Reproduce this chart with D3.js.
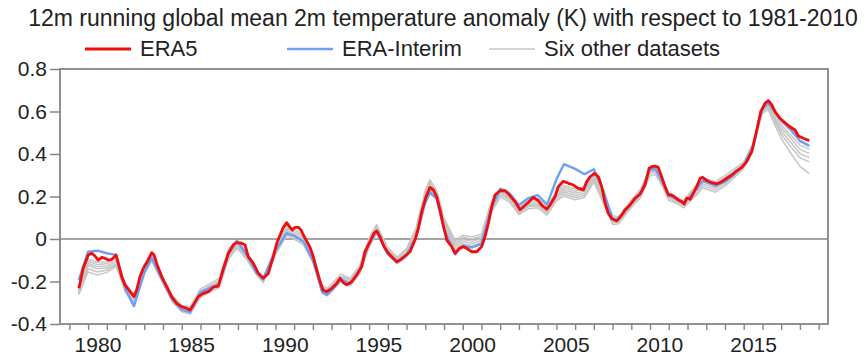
<!DOCTYPE html>
<html>
<head>
<meta charset="utf-8">
<script src="https://cdn.jsdelivr.net/npm/d3@7"></script>
<style>
  html, body { margin: 0; padding: 0; background: #fff; }
  svg { display: block; }
  text { font-family: "Liberation Sans", Arial, Helvetica, sans-serif; fill: #222; }
</style>
</head>
<body>
<svg id="chart" width="864" height="360"></svg>
<script>
// ---------------- DATA ----------------
const titleText = "12m running global mean 2m temperature anomaly (K) with respect to 1981-2010";
const seriesNames = ["ERA5", "ERA-Interim", "Six other datasets"];

const era5Years = [1979.51,1979.74,1980.01,1980.19,1980.37,1980.54,1980.73,1980.90,1981.08,1981.26,
1981.49,1981.61,1981.79,1981.97,1982.24,1982.45,1982.60,1982.77,1982.95,1983.16,
1983.40,1983.52,1983.69,1983.93,1984.20,1984.46,1984.73,1984.99,1985.26,1985.44,
1985.62,1985.88,1986.15,1986.42,1986.68,1986.95,1987.22,1987.49,1987.75,1987.93,
1988.20,1988.38,1988.55,1988.82,1989.09,1989.35,1989.62,1989.89,1990.07,1990.25,
1990.42,1990.60,1990.78,1990.90,1991.05,1991.22,1991.37,1991.49,1991.67,1991.85,
1992.02,1992.21,1992.38,1992.54,1992.74,1993.01,1993.27,1993.45,1993.63,1993.81,
1994.07,1994.34,1994.61,1994.78,1995.05,1995.26,1995.41,1995.58,1995.80,1996.03,
1996.29,1996.48,1996.65,1996.92,1997.19,1997.45,1997.63,1997.81,1998.04,1998.25,
1998.43,1998.61,1998.79,1998.96,1999.15,1999.41,1999.59,1999.82,2000.03,2000.21,
2000.48,2000.75,2001.01,2001.19,2001.37,2001.55,2001.72,2001.99,2002.26,2002.53,
2002.79,2003.06,2003.24,2003.50,2003.77,2004.04,2004.22,2004.49,2004.66,2004.93,
2005.10,2005.37,2005.64,2005.91,2006.17,2006.44,2006.62,2006.80,2007.03,2007.24,
2007.42,2007.60,2007.77,2007.95,2008.22,2008.49,2008.66,2008.93,2009.20,2009.47,
2009.73,2009.95,2010.09,2010.27,2010.44,2010.62,2010.80,2010.98,2011.16,2011.33,
2011.51,2011.69,2011.82,2011.96,2012.14,2012.31,2012.49,2012.67,2012.81,2013.03,
2013.29,2013.56,2013.83,2014.10,2014.36,2014.63,2014.90,2015.16,2015.43,2015.70,
2015.91,2016.14,2016.32,2016.50,2016.67,2016.94,2017.21,2017.47,2017.74,2017.92,
2018.18,2018.50];

const era5Values = [-0.232,-0.138,-0.075,-0.067,-0.080,-0.099,-0.086,-0.091,-0.099,-0.096,
-0.075,-0.114,-0.177,-0.216,-0.248,-0.271,-0.240,-0.177,-0.138,-0.107,
-0.064,-0.075,-0.122,-0.177,-0.224,-0.271,-0.303,-0.318,-0.326,-0.334,
-0.310,-0.271,-0.256,-0.248,-0.227,-0.222,-0.140,-0.067,-0.028,-0.017,
-0.020,-0.028,-0.083,-0.114,-0.162,-0.185,-0.162,-0.083,-0.020,0.019,
0.055,0.077,0.055,0.042,0.055,0.055,0.042,0.019,-0.010,-0.040,
-0.083,-0.146,-0.200,-0.240,-0.248,-0.232,-0.209,-0.185,-0.206,-0.216,
-0.201,-0.169,-0.130,-0.060,-0.013,0.027,0.038,0.011,-0.036,-0.067,
-0.091,-0.107,-0.099,-0.080,-0.060,-0.005,0.050,0.128,0.199,0.243,
0.231,0.199,0.136,0.066,-0.005,-0.036,-0.067,-0.044,-0.036,-0.044,
-0.060,-0.060,-0.036,0.011,0.074,0.152,0.207,0.227,0.228,0.203,
0.176,0.138,0.152,0.172,0.196,0.180,0.158,0.140,0.160,0.200,
0.246,0.272,0.262,0.254,0.238,0.231,0.270,0.293,0.309,0.293,
0.246,0.168,0.121,0.097,0.085,0.113,0.136,0.160,0.192,0.212,
0.254,0.333,0.340,0.343,0.337,0.293,0.246,0.207,0.207,0.196,
0.184,0.176,0.165,0.192,0.187,0.215,0.246,0.286,0.290,0.275,
0.265,0.259,0.270,0.286,0.301,0.321,0.337,0.364,0.411,0.513,
0.599,0.639,0.651,0.631,0.599,0.568,0.547,0.528,0.513,0.485,
0.474,0.463];

// ERA-Interim and the six other datasets, read on a coarser time grid
const otherYears = [1979.5,1980.0,1980.5,1981.0,1981.5,1982.0,1982.45,1983.0,1983.4,1984.0,
1984.5,1985.0,1985.45,1986.0,1986.5,1987.0,1987.5,1987.95,1988.5,1989.0,
1989.35,1990.0,1990.6,1991.0,1991.5,1992.0,1992.5,1992.75,1993.0,1993.5,
1994.0,1994.5,1995.0,1995.4,1996.0,1996.5,1997.0,1997.5,1998.0,1998.25,
1998.6,1999.0,1999.6,2000.0,2000.5,2001.0,2001.5,2002.0,2002.5,2003.0,
2003.5,2004.0,2004.5,2005.0,2005.4,2006.0,2006.5,2007.0,2007.5,2008.0,
2008.3,2009.0,2009.5,2010.0,2010.3,2010.7,2011.0,2011.5,2011.8,2012.5,
2012.8,2013.5,2014.0,2014.5,2015.0,2015.5,2015.8,2016.0,2016.3,2016.7,
2017.0,2017.5,2018.0,2018.5];

const eraInterimValues = [-0.192,-0.060,-0.055,-0.067,-0.075,-0.240,-0.316,-0.160,-0.089,-0.200,
-0.286,-0.333,-0.344,-0.250,-0.230,-0.210,-0.070,-0.007,-0.080,-0.160,
-0.190,-0.055,0.027,0.015,-0.013,-0.100,-0.250,-0.263,-0.242,-0.190,
-0.210,-0.145,-0.020,0.033,-0.070,-0.110,-0.075,0.010,0.170,0.218,
0.190,0.045,-0.072,-0.032,-0.040,-0.022,0.140,0.237,0.215,0.160,
0.192,0.207,0.162,0.280,0.352,0.330,0.305,0.328,0.230,0.094,
0.090,0.168,0.215,0.328,0.328,0.260,0.207,0.184,0.167,0.238,
0.275,0.250,0.270,0.305,0.347,0.435,0.550,0.610,0.640,0.595,
0.558,0.516,0.462,0.438];

const other1Values = [-0.262,-0.155,-0.170,-0.157,-0.130,-0.250,-0.301,-0.160,-0.104,-0.210,
-0.296,-0.343,-0.354,-0.275,-0.250,-0.230,-0.095,-0.042,-0.100,-0.170,
-0.205,-0.075,0.017,0.000,-0.028,-0.110,-0.255,-0.268,-0.247,-0.200,
-0.220,-0.165,-0.040,0.028,-0.075,-0.115,-0.085,0.000,0.180,0.233,
0.190,0.050,-0.057,-0.032,-0.040,-0.027,0.120,0.197,0.175,0.115,
0.142,0.147,0.112,0.180,0.202,0.185,0.195,0.268,0.170,0.069,
0.070,0.148,0.195,0.298,0.303,0.240,0.182,0.164,0.147,0.208,
0.240,0.220,0.250,0.290,0.332,0.420,0.530,0.590,0.610,0.530,
0.473,0.406,0.342,0.308];

const other2Values = [-0.257,-0.140,-0.155,-0.147,-0.120,-0.240,-0.291,-0.150,-0.094,-0.205,
-0.286,-0.338,-0.344,-0.265,-0.240,-0.220,-0.085,-0.032,-0.090,-0.165,
-0.200,-0.065,0.027,0.010,-0.018,-0.100,-0.250,-0.258,-0.242,-0.190,
-0.210,-0.155,-0.030,0.038,-0.065,-0.110,-0.075,0.010,0.190,0.243,
0.200,0.060,-0.047,-0.022,-0.030,-0.017,0.130,0.207,0.185,0.120,
0.152,0.157,0.122,0.190,0.212,0.195,0.205,0.278,0.180,0.079,
0.075,0.158,0.205,0.308,0.313,0.250,0.192,0.169,0.157,0.218,
0.250,0.230,0.260,0.300,0.337,0.430,0.540,0.600,0.620,0.545,
0.493,0.436,0.382,0.363];

const other3Values = [-0.252,-0.125,-0.140,-0.137,-0.115,-0.235,-0.281,-0.145,-0.089,-0.200,
-0.281,-0.328,-0.339,-0.260,-0.235,-0.210,-0.075,-0.027,-0.085,-0.160,
-0.195,-0.060,0.037,0.020,-0.013,-0.095,-0.245,-0.253,-0.232,-0.185,
-0.205,-0.145,-0.020,0.043,-0.060,-0.105,-0.070,0.020,0.200,0.253,
0.210,0.070,-0.037,-0.012,-0.020,-0.007,0.140,0.217,0.190,0.125,
0.157,0.162,0.127,0.200,0.222,0.205,0.215,0.288,0.190,0.084,
0.085,0.163,0.215,0.318,0.318,0.255,0.197,0.174,0.162,0.228,
0.260,0.240,0.270,0.310,0.342,0.435,0.550,0.605,0.625,0.555,
0.508,0.456,0.402,0.383];

const other4Values = [-0.247,-0.115,-0.130,-0.127,-0.105,-0.230,-0.271,-0.140,-0.084,-0.195,
-0.276,-0.323,-0.334,-0.255,-0.230,-0.205,-0.065,-0.017,-0.075,-0.155,
-0.190,-0.055,0.042,0.025,-0.003,-0.090,-0.235,-0.248,-0.227,-0.180,
-0.195,-0.140,-0.015,0.048,-0.055,-0.095,-0.065,0.030,0.210,0.258,
0.215,0.080,-0.027,-0.002,-0.010,0.003,0.150,0.222,0.195,0.135,
0.162,0.172,0.132,0.205,0.232,0.215,0.225,0.293,0.200,0.094,
0.090,0.168,0.220,0.323,0.323,0.260,0.202,0.184,0.167,0.238,
0.270,0.250,0.280,0.315,0.347,0.440,0.555,0.610,0.630,0.565,
0.523,0.476,0.422,0.403];

const other5Values = [-0.242,-0.105,-0.120,-0.117,-0.095,-0.220,-0.266,-0.130,-0.074,-0.190,
-0.271,-0.318,-0.329,-0.245,-0.220,-0.195,-0.055,-0.012,-0.070,-0.150,
-0.185,-0.045,0.052,0.035,0.007,-0.080,-0.230,-0.238,-0.222,-0.175,
-0.190,-0.135,-0.005,0.058,-0.050,-0.090,-0.055,0.040,0.220,0.268,
0.220,0.090,-0.017,0.008,0.000,0.013,0.160,0.227,0.205,0.140,
0.172,0.182,0.142,0.215,0.242,0.225,0.235,0.298,0.210,0.099,
0.100,0.178,0.225,0.328,0.333,0.270,0.207,0.189,0.177,0.248,
0.280,0.260,0.290,0.320,0.357,0.445,0.560,0.615,0.635,0.580,
0.538,0.491,0.442,0.423];

const other6Values = [-0.237,-0.095,-0.110,-0.107,-0.085,-0.210,-0.261,-0.120,-0.064,-0.180,
-0.266,-0.313,-0.319,-0.235,-0.210,-0.185,-0.045,-0.007,-0.065,-0.145,
-0.180,-0.040,0.062,0.045,0.017,-0.070,-0.220,-0.233,-0.212,-0.165,
-0.185,-0.125,0.005,0.068,-0.040,-0.085,-0.045,0.050,0.230,0.278,
0.230,0.100,-0.007,0.018,0.010,0.023,0.170,0.237,0.215,0.150,
0.182,0.192,0.152,0.225,0.252,0.235,0.245,0.308,0.220,0.109,
0.105,0.183,0.235,0.338,0.343,0.280,0.217,0.194,0.182,0.258,
0.290,0.270,0.300,0.330,0.362,0.450,0.565,0.620,0.640,0.590,
0.553,0.511,0.462,0.438];

const xTickYears = [1979,1980,1981,1982,1983,1984,1985,1986,1987,1988,1989,1990,1991,1992,1993,1994,1995,1996,1997,1998,1999,2000,2001,2002,2003,2004,2005,2006,2007,2008,2009,2010,2011,2012,2013,2014,2015,2016,2017,2018,2019];
const xLabelYears = [1980,1985,1990,1995,2000,2005,2010,2015];
const yTickValues = [-0.4,-0.2,0,0.2,0.4,0.6,0.8];
const yTickLabels = ["-0.4","-0.2","0","0.2","0.4","0.6","0.8"];

// ---------------- DRAWING ----------------
const svg = d3.select("#chart");
const plot = {left: 60, right: 828, top: 69, bottom: 324};

const x = d3.scaleLinear().domain([1978.5, 2019.5]).range([plot.left, plot.right]);
const y = d3.scaleLinear().domain([-0.4, 0.8]).range([plot.bottom, plot.top]);

const frameColor = "#858585";
const colors = {era5: "#f20d0d", erai: "#6f9ff5", other: "#c6c6c6"};

// title
svg.append("text")
  .attr("x", 443).attr("y", 26)
  .attr("text-anchor", "middle")
  .style("font-size", "23px")
  .text(titleText);

// legend
const legendItems = [
  {name: seriesNames[0], color: colors.era5, width: 3, x0: 85},
  {name: seriesNames[1], color: colors.erai, width: 2.5, x0: 287},
  {name: seriesNames[2], color: colors.other, width: 1.6, x0: 489}
];
const lg = svg.append("g");
legendItems.forEach(d => {
  lg.append("line").attr("x1", d.x0).attr("x2", d.x0 + 46)
    .attr("y1", 49).attr("y2", 49)
    .attr("stroke", d.color).attr("stroke-width", d.width);
  lg.append("text").attr("x", d.x0 + 55).attr("y", 56)
    .style("font-size", "22px").text(d.name);
});

// zero line
svg.append("line")
  .attr("x1", plot.left).attr("x2", plot.right)
  .attr("y1", y(0)).attr("y2", y(0))
  .attr("stroke", frameColor).attr("stroke-width", 1.6);

// series
const line = d3.line().x(d => x(d[0])).y(d => y(d[1]));
const zip = (xs, vs) => xs.map((t, i) => [t, vs[i]]);

const others = [other1Values, other2Values, other3Values, other4Values, other5Values, other6Values];
const gOther = svg.append("g");
others.forEach(vals => {
  gOther.append("path").datum(zip(otherYears, vals))
    .attr("d", line).attr("fill", "none")
    .attr("stroke", colors.other).attr("stroke-width", 1.5)
    .attr("stroke-linejoin", "round");
});

svg.append("path").datum(zip(otherYears, eraInterimValues))
  .attr("d", line).attr("fill", "none")
  .attr("stroke", colors.erai).attr("stroke-width", 2.4)
  .attr("stroke-linejoin", "round");

svg.append("path").datum(zip(era5Years, era5Values))
  .attr("d", line).attr("fill", "none")
  .attr("stroke", colors.era5).attr("stroke-width", 2.8)
  .attr("stroke-linejoin", "round");

// frame
svg.append("rect")
  .attr("x", plot.left).attr("y", plot.top)
  .attr("width", plot.right - plot.left).attr("height", plot.bottom - plot.top)
  .attr("fill", "none").attr("stroke", frameColor).attr("stroke-width", 1.8);

// y axis
const yAxis = svg.append("g").attr("transform", `translate(${plot.left},0)`)
  .call(d3.axisLeft(y).tickValues(yTickValues)
    .tickFormat((d, i) => yTickLabels[i]).tickSize(10).tickPadding(3));
yAxis.select(".domain").remove();
yAxis.selectAll("line").attr("stroke", frameColor).attr("stroke-width", 1.5);
yAxis.selectAll("text").style("font-size", "21px")
  .style("font-family", '"Liberation Sans", Arial, Helvetica, sans-serif').attr("fill", "#222");

// x axis ticks at year boundaries
const xTicks = svg.append("g").attr("transform", `translate(0,${plot.bottom})`)
  .call(d3.axisBottom(x).tickValues(xTickYears).tickSize(6).tickFormat(""));
xTicks.select(".domain").remove();
xTicks.selectAll("line").attr("stroke", frameColor).attr("stroke-width", 1.4);

// x labels centred within their year
const xLabels = svg.append("g").attr("transform", `translate(0,${plot.bottom})`)
  .call(d3.axisBottom(x).tickValues(xLabelYears.map(v => v + 0.5))
    .tickSize(0).tickPadding(13).tickFormat(d => String(Math.floor(d))));
xLabels.select(".domain").remove();
xLabels.selectAll("text").style("font-size", "21px")
  .style("font-family", '"Liberation Sans", Arial, Helvetica, sans-serif').attr("fill", "#222");
</script>
</body>
</html>
